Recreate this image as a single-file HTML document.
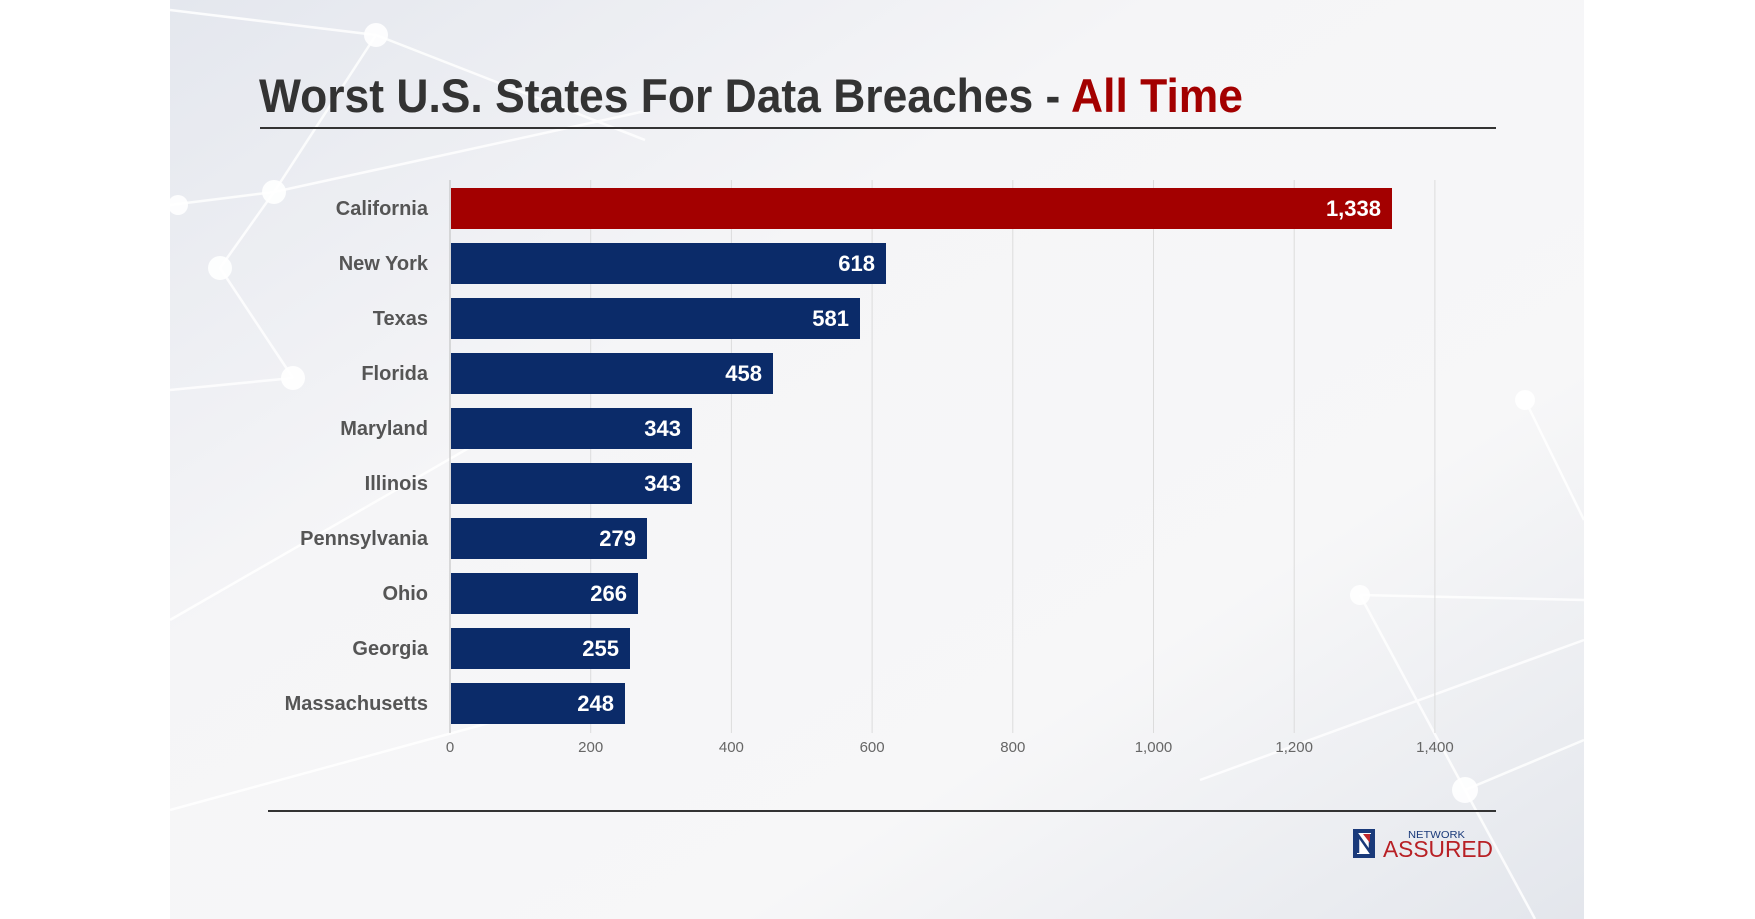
<!DOCTYPE html>
<html><head><meta charset="utf-8"><style>
html,body{margin:0;padding:0;background:#fff;width:1755px;height:919px;overflow:hidden}
</style></head><body>
<svg width="1755" height="919" xmlns="http://www.w3.org/2000/svg" font-family="Liberation Sans, Arial, sans-serif">
<defs>
<linearGradient id="bg" x1="0" y1="0" x2="1" y2="1">
<stop offset="0" stop-color="#e4e7ee"/><stop offset="0.35" stop-color="#f5f5f7"/><stop offset="0.7" stop-color="#f7f7f8"/><stop offset="1" stop-color="#e3e6ec"/>
</linearGradient>
</defs>
<rect x="170" y="0" width="1414" height="919" fill="url(#bg)"/>
<g stroke="#fff" stroke-width="2.5" opacity="0.85" fill="none">
<line x1="170" y1="205" x2="274" y2="192"/><line x1="274" y1="192" x2="650" y2="110"/>
<line x1="274" y1="192" x2="220" y2="268"/><line x1="220" y1="268" x2="293" y2="378"/>
<line x1="170" y1="390" x2="293" y2="378"/><line x1="376" y1="35" x2="274" y2="192"/>
<line x1="170" y1="10" x2="376" y2="35"/><line x1="376" y1="35" x2="645" y2="140"/>
<line x1="170" y1="620" x2="500" y2="430"/><line x1="1584" y1="600" x2="1360" y2="595"/>
<line x1="1360" y1="595" x2="1465" y2="790"/><line x1="1465" y1="790" x2="1584" y2="740"/>
<line x1="1465" y1="790" x2="1535" y2="919"/><line x1="1525" y1="400" x2="1584" y2="520"/>
<line x1="1200" y1="780" x2="1584" y2="640"/><line x1="170" y1="810" x2="500" y2="720"/>
</g>
<g fill="#fff" opacity="0.9">
<circle cx="274" cy="192" r="12"/><circle cx="220" cy="268" r="12"/><circle cx="293" cy="378" r="12"/>
<circle cx="376" cy="35" r="12"/><circle cx="1465" cy="790" r="13"/><circle cx="1360" cy="595" r="10"/>
<circle cx="1525" cy="400" r="10"/><circle cx="178" cy="205" r="10"/>
</g>
<text x="259" y="112" font-size="47" font-weight="bold" fill="#333" textLength="984" lengthAdjust="spacingAndGlyphs">Worst U.S. States For Data Breaches - <tspan fill="#a30000">All Time</tspan></text>
<rect x="260" y="127" width="1236" height="2" fill="#333"/>
<g stroke="#dcdcdc" stroke-width="1">
<line x1="590.7" y1="180" x2="590.7" y2="733"/><line x1="731.4" y1="180" x2="731.4" y2="733"/>
<line x1="872.1" y1="180" x2="872.1" y2="733"/><line x1="1012.8" y1="180" x2="1012.8" y2="733"/>
<line x1="1153.5" y1="180" x2="1153.5" y2="733"/><line x1="1294.2" y1="180" x2="1294.2" y2="733"/>
<line x1="1434.9" y1="180" x2="1434.9" y2="733"/>
</g>
<line x1="450" y1="180" x2="450" y2="733" stroke="#bbb" stroke-width="1"/>
<g font-size="20" font-weight="bold" fill="#555" text-anchor="end">
<text x="428" y="215">California</text><text x="428" y="270">New York</text><text x="428" y="325">Texas</text>
<text x="428" y="380">Florida</text><text x="428" y="435">Maryland</text><text x="428" y="490">Illinois</text>
<text x="428" y="545">Pennsylvania</text><text x="428" y="600">Ohio</text><text x="428" y="655">Georgia</text>
<text x="428" y="710">Massachusetts</text>
</g>
<rect x="451" y="188" width="941" height="41" fill="#a30000"/>
<g fill="#0b2b69">
<rect x="451" y="243" width="435" height="41"/><rect x="451" y="298" width="409" height="41"/>
<rect x="451" y="353" width="322" height="41"/><rect x="451" y="408" width="241" height="41"/>
<rect x="451" y="463" width="241" height="41"/><rect x="451" y="518" width="196" height="41"/>
<rect x="451" y="573" width="187" height="41"/><rect x="451" y="628" width="179" height="41"/>
<rect x="451" y="683" width="174" height="41"/>
</g>
<g font-size="22" font-weight="bold" fill="#fff" text-anchor="end">
<text x="1381" y="216">1,338</text><text x="875" y="271">618</text><text x="849" y="326">581</text>
<text x="762" y="381">458</text><text x="681" y="436">343</text><text x="681" y="491">343</text>
<text x="636" y="546">279</text><text x="627" y="601">266</text><text x="619" y="656">255</text>
<text x="614" y="711">248</text>
</g>
<g font-size="15" fill="#666" text-anchor="middle">
<text x="450" y="752">0</text><text x="590.7" y="752">200</text><text x="731.4" y="752">400</text>
<text x="872.1" y="752">600</text><text x="1012.8" y="752">800</text><text x="1153.5" y="752">1,000</text>
<text x="1294.2" y="752">1,200</text><text x="1434.9" y="752">1,400</text>
</g>
<rect x="268" y="810" width="1228" height="2" fill="#333"/>
<rect x="1353" y="829" width="22" height="29" fill="#1a3a7a"/>
<rect x="1357" y="833" width="14" height="21" fill="#fff"/>
<path d="M1358 853 V835 L1370 852 V834" stroke="#1a3a7a" stroke-width="2.5" fill="none"/>
<path d="M1363 834 L1370 834 L1370 843 Z" fill="#c0282d"/>
<text x="1408" y="838" font-size="10" fill="#1a3a7a" textLength="57" lengthAdjust="spacingAndGlyphs">NETWORK</text>
<text x="1383" y="857" font-size="23" fill="#b82025" textLength="110" lengthAdjust="spacingAndGlyphs">ASSURED</text>
</svg>
</body></html>
